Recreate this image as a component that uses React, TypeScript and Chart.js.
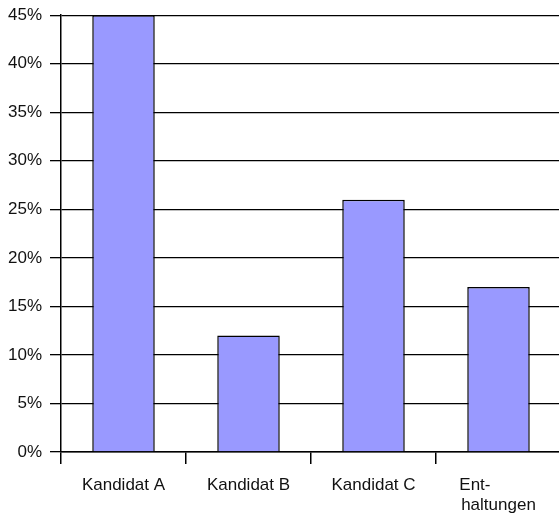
import React, { useEffect, useRef } from "react";
import { Chart, registerables } from "chart.js";

Chart.register(...registerables);

const categories: (string | string[])[] = [
  "Kandidat A",
  "Kandidat B",
  "Kandidat C",
  ["Ent-\u00a0\u00a0\u00a0\u00a0\u00a0\u00a0\u00a0\u00a0\u00a0\u00a0", "haltungen"],
];
const shares: number[] = [45, 12, 26, 17];
const yMax = 45;
const yStep = 5;

export default function App() {
  const ref = useRef<HTMLCanvasElement | null>(null);
  useEffect(() => {
    if (!ref.current) return;
    const font = { family: "'Liberation Sans', Arial, sans-serif", size: 17, lineHeight: 1.2 };
    const chart = new Chart(ref.current, {
      type: "bar",
      data: {
        labels: categories,
        datasets: [
          {
            data: shares,
            backgroundColor: "#9999FF",
            borderColor: "#000000",
            borderWidth: 1.5,
            categoryPercentage: 1,
            barPercentage: 0.5,
          },
        ],
      },
      options: {
        responsive: false,
        animation: false,
        layout: { padding: { top: 12, right: 0, left: 0, bottom: 0 } },
        plugins: { legend: { display: false }, tooltip: { enabled: false } },
        scales: {
          x: {
            grid: {
              display: true,
              offset: true,
              drawOnChartArea: false,
              drawTicks: true,
              tickLength: 12,
              color: "#000000",
              lineWidth: 1.5,
            },
            border: { display: true, color: "#000000", width: 1.5 },
            ticks: { color: "#111111", font, padding: 11, maxRotation: 0, autoSkip: false },
            afterFit: (s: any) => {
              s.height = 63;
            },
          },
          y: {
            min: 0,
            max: yMax,
            ticks: {
              stepSize: yStep,
              color: "#111111",
              font,
              padding: 8,
              callback: (v: any) => `${v}%`,
            },
            grid: { color: "#000000", lineWidth: 1.3, tickLength: 11 },
            border: { display: true, color: "#000000", width: 1.5 },
            afterFit: (s: any) => {
              s.width = 61;
            },
          },
        },
      },
    });
    return () => chart.destroy();
  }, []);
  return (
    <div
      style={{
        position: "absolute",
        left: 0,
        top: 0,
        width: 559,
        height: 515,
        overflow: "hidden",
        background: "#fff",
      }}
    >
      <canvas
        ref={ref}
        width={561}
        height={518}
        style={{ display: "block", position: "absolute", left: 0, top: -3 }}
      />
    </div>
  );
}
